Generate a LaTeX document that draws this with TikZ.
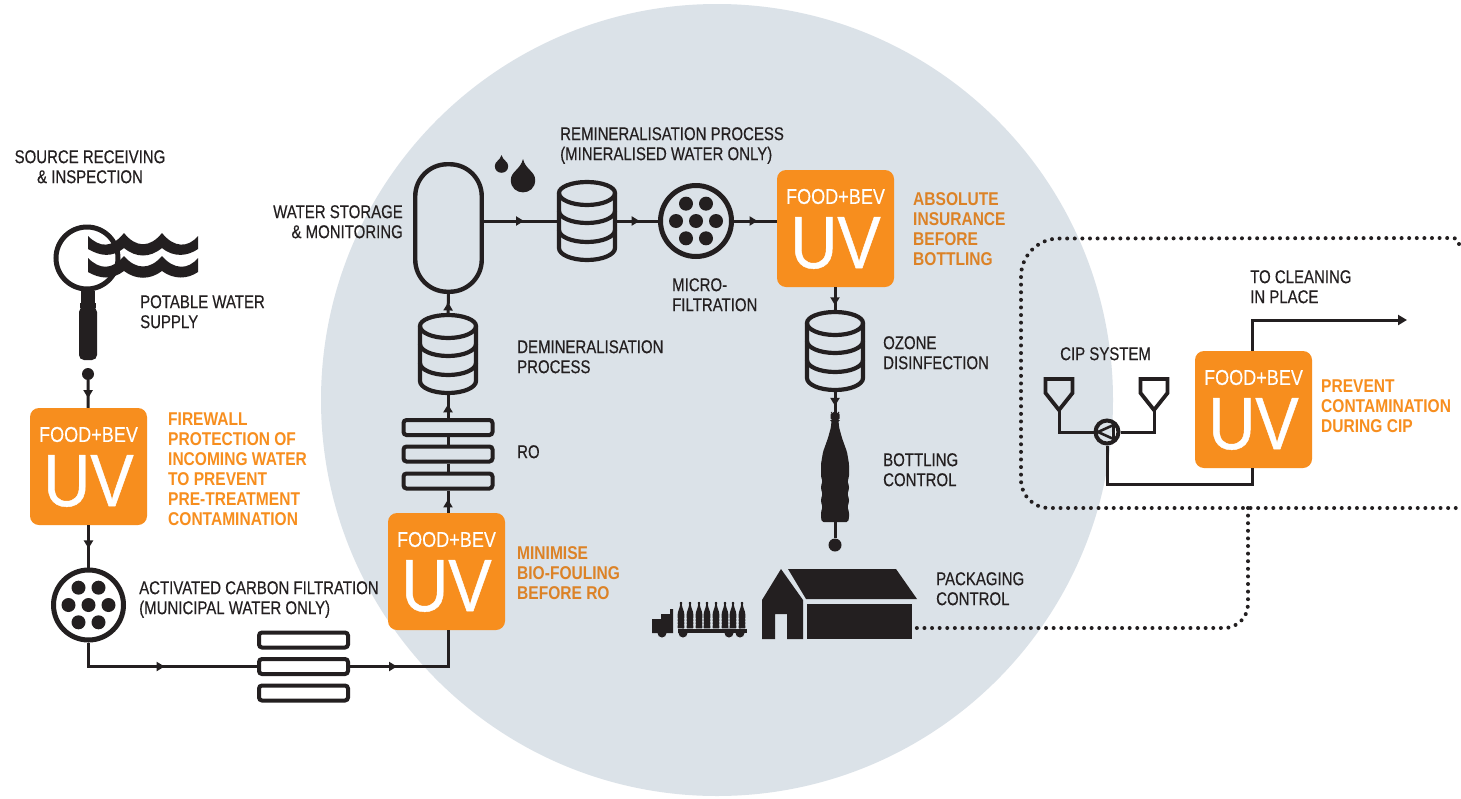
\documentclass[tikz,border=0pt]{standalone}
\usepackage{fontspec}
\setmainfont[FakeStretch=0.81,FakeBold=0.35]{Liberation Sans}
\newfontfamily\orangefont[FakeStretch=0.84]{Liberation Sans Bold}
\newfontfamily\uvfont[FakeStretch=0.88,FakeBold=0.6]{Liberation Sans}
\newfontfamily\uvsmall[FakeStretch=0.84,FakeBold=0.2]{Liberation Sans}
\usetikzlibrary{arrows.meta,decorations.markings,calc}
\definecolor{ink}{HTML}{231F20}
\definecolor{uvorange}{HTML}{F78E1E}
\definecolor{noteorange}{HTML}{DC8226}
\definecolor{disc}{HTML}{DBE2E8}
\tikzset{
  x=1pt,y=-1pt,
  pipe/.style={draw=ink,line width=3pt},
  flowmark/.style={postaction={decorate,decoration={markings,
     mark=at position #1 with {\arrow[ink]{Triangle[length=8pt,width=9pt]}}}}},
  lab/.style={font=\fontsize{18.5}{20}\selectfont,text=ink,inner sep=0pt,align=left,anchor=north west},
  note/.style={font=\orangefont\fontsize{18.5}{20}\selectfont,text=noteorange,inner sep=0pt,align=left,anchor=north west},
  uvbox/.style={fill=uvorange,rounded corners=9pt,minimum width=117pt,minimum height=117pt,inner sep=0pt},
  barbox/.style={draw=ink,line width=4pt,rounded corners=3pt,minimum width=89pt,minimum height=15pt,inner sep=0pt},
  ringnode/.style={circle,draw=ink,line width=5pt,inner sep=0pt},
  dotnode/.style={circle,fill=ink,inner sep=0pt},
  dotted loop/.style={draw=ink,line width=4pt,line cap=round,dash pattern=on 0pt off 7.6pt},
}
\newcommand{\uvblock}[3]{%
  \node[uvbox] (#1) at (#2,#3) {};
  \node[inner sep=0pt,text=white,font=\uvsmall\fontsize{21.5}{21.5}\selectfont] (#1a) at (#2,#3-32) {FOOD+BEV};
  \node[inner sep=0pt,text=white,font=\uvfont\fontsize{74}{74}\selectfont] (#1b) at (#2,#3+14.5) {UV};
}
\newcommand{\drum}[3]{% name, centre x, top y
  \node[minimum width=60pt,minimum height=82pt,inner sep=0pt] (#1) at (#2,#3+41) {};
  \begin{scope}[shift={(#2,#3)}]
    \draw[ink,line width=4.2pt] (-28,13) arc[x radius=28,y radius=11,start angle=180,end angle=360]
       -- (28,68) arc[x radius=28,y radius=12,start angle=0,end angle=180] -- cycle;
    \draw[ink,line width=4.2pt] (-28,13) arc[x radius=28,y radius=12,start angle=180,end angle=0];
    \draw[ink,line width=4.2pt] (-28,31) arc[x radius=28,y radius=12,start angle=180,end angle=0];
    \draw[ink,line width=4.2pt] (-28,50) arc[x radius=28,y radius=12,start angle=180,end angle=0];
  \end{scope}
}
\newcommand{\filterdots}[3]{% x, y, scale
  \foreach \a in {0,60,...,300}{\fill[ink] ($(#1,#2)+(\a:#3*20)$) circle[radius=#3*7];}
  \fill[ink] (#1,#2) circle[radius=#3*7];
}
\newcommand{\bottleshape}{%
 (-3,0) -- (3,0) -- (3,1) -- (4.5,1) -- (4.5,8) -- (3.5,8) -- (4,15) -- (7,26) -- (12,40) -- (14,52) -- (14,65) -- (12.5,69) -- (14,74) -- (14,77) -- (12.5,82) -- (14,87) -- (14,90) -- (12.5,95) -- (14,100) -- (14,106) -- (13,110)
 -- (-13,110) -- (-14,106) -- (-14,100) -- (-12.5,95) -- (-14,90) -- (-14,87) -- (-12.5,82) -- (-14,77) -- (-14,74) -- (-12.5,69) -- (-14,65) -- (-14,52) -- (-12,40) -- (-7,26) -- (-4,15) -- (-3.5,8) -- (-4.5,8) -- (-4.5,1) -- (-3,1) -- cycle}
\newcommand{\funnel}[3]{% name, tip x, tip y
  \coordinate (#1) at (#2,#3);
  \draw[ink,line width=3.8pt,miter limit=3,line join=miter] (#2,#3) -- (#2-13.5,#3-17) -- (#2-13.5,#3-31) -- (#2+13.5,#3-31) -- (#2+13.5,#3-17) -- cycle;
}
\newcommand{\drop}[4]{% x, tip y, centre y, radius
  \fill[ink] (#1,#2) .. controls (#1+0.2*#4,#2+0.5*#3-0.5*#2) and (#1+#4,#3-0.7*#4) .. (#1+#4,#3)
     .. controls (#1+#4,#3+1.35*#4) and (#1-#4,#3+1.35*#4) .. (#1-#4,#3)
     .. controls (#1-#4,#3-0.7*#4) and (#1-0.2*#4,#2+0.5*#3-0.5*#2) .. (#1,#2) -- cycle;
}
\begin{document}
\begin{tikzpicture}
\useasboundingbox (0,0) rectangle (1461,798);
\fill[white] (0,0) rectangle (1461,798);
\fill[disc] (717,400) circle[radius=396];

% ---- named anchors
\coordinate (loopR1) at (1459,244);
\coordinate (loopC1) at (1021,238.5);
\coordinate (loopC2) at (1021,508);
\coordinate (loopR2) at (1459,506);
\coordinate (loopT) at (1248,508);
\coordinate (loopC3) at (1248,628);
\coordinate (arrowEnd) at (1407,320);
\coordinate (uvDx) at (1252,0);

% ---- UV blocks
\uvblock{uvA}{88.5}{466.5}
\uvblock{uvB}{446.5}{571.5}
\uvblock{uvC}{835.5}{228.5}
\uvblock{uvD}{1253.5}{409.5}

% ---- equipment nodes
\node[ringnode,minimum size=70pt] (carbon) at (88.5,605) {};
\node[ringnode,minimum size=71pt] (micro) at (696,221) {};
\node[draw=ink,line width=4.4pt,rounded corners=32pt,minimum width=66.5pt,minimum height=127.5pt,inner sep=0pt] (tank) at (448.5,228) {};
\node[barbox] (fA) at (303.5,640) {};
\node[barbox] (fB) at (303.5,666.5) {};
\node[barbox] (fC) at (303.5,693) {};
\node[dotnode,minimum size=12pt] (dotAn) at (88,374) {};
\node[dotnode,minimum size=13pt] (dotBn) at (835,545) {};
\node[minimum width=28pt,minimum height=110pt,inner sep=0pt] (bottle) at (835,467) {};
\node[circle,draw=ink,line width=4pt,minimum size=23pt,inner sep=0pt] (pump) at (1107,432) {};
\node[barbox] (roC) at (448,481) {};
\node[barbox] (roB) at (448,454) {};
\node[barbox] (roA) at (448,427.5) {};
\drum{drumA}{448}{313}
\drum{drumB}{587}{180}
\drum{drumC}{835}{310}
\funnel{funL}{1059}{410}
\funnel{funR}{1154}{410}

% ---- connectors
\draw[pipe,flowmark=0.65] (dotAn) -- (uvA);
\draw[pipe,flowmark=0.55] (uvA) -- (carbon);
\draw[pipe,flowmark=0.52] (carbon.south) |- (fB.west);
\draw[pipe,flowmark=0.35] (fB.east) -| (uvB.south -| roC);
\draw[pipe,flowmark=0.6] (uvB.north -| roC) -- (roC.south);
\draw[pipe] (roC.north) -- (roB.south);
\draw[pipe] (roB.north) -- (roA.south);
\draw[pipe,flowmark=0.6] (roA.north) -- (drumA.south);
\draw[pipe,flowmark=0.55] (drumA.north) -- (tank.south);
\draw[pipe,flowmark=0.55] (tank.east |- micro) -- (drumB.west |- micro);
\draw[pipe,flowmark=0.55] (drumB.east |- micro) -- (micro.west);
\draw[pipe,flowmark=0.55] (micro.east) -- (uvC.west |- micro);
\draw[pipe,flowmark=0.8] (uvC.south -| drumC) -- (drumC.north);
\draw[pipe,flowmark=0.7] (drumC.south) -- (bottle.north);
\draw[pipe] (bottle.south) -- (dotBn);
\draw[pipe] (funL) |- (pump.west);
\draw[pipe] (funR) |- (pump.east);
\draw[pipe] (pump.south) |- (uvDx |- 0,484) -- (uvD.south -| uvDx);
\draw[pipe,-{Triangle[length=9pt,width=10pt]}] (uvD.north -| uvDx) |- (arrowEnd);

% ---- filter dots
\filterdots{88.5}{605}{1}
\filterdots{696}{221}{1}

% ---- drops
\drop{501.5}{155}{166}{6.7}
\drop{523}{159}{180}{12.2}

% ---- magnifier
\fill[ink] (88,236) .. controls (100,248) and (112,248) .. (124,233) .. controls (136,248) and (150,248) .. (162,233) .. controls (174,248) and (188,248) .. (198,236) -- (198,249) .. controls (188,256) and (174,258) .. (162,248) .. controls (150,258) and (136,258) .. (124,248) .. controls (112,258) and (100,256) .. (88,249) -- cycle;
\fill[ink] (88,258) .. controls (100,270) and (112,270) .. (124,256) .. controls (136,270) and (150,270) .. (162,256) .. controls (174,270) and (188,270) .. (198,258) -- (198,272) .. controls (188,279) and (174,280) .. (162,271) .. controls (150,280) and (136,280) .. (124,271) .. controls (112,280) and (100,279) .. (88,272) -- cycle;
\node[circle,draw=ink,line width=5pt,minimum size=62pt,inner sep=0pt] (lens) at (87,258) {};
\fill[ink] (81,291) rectangle (95,303);
\fill[ink] (80,303) rectangle (96,308);
\fill[ink,rounded corners=5pt] (79,307) rectangle (97,360);

% ---- bottle
\begin{scope}[shift={(835,412)}]
  \fill[ink,rounded corners=1.5pt] \bottleshape;
\end{scope}

% ---- barn
\fill[ink] (762,639) -- (775,639) -- (775,614) -- (787,614) -- (787,639) -- (803,639) -- (803,600) -- (781,569) -- (762,600) -- cycle;
\fill[ink] (788,569) -- (896,569) -- (917,599) -- (806,599) -- cycle;
\fill[ink] (807,604) rectangle (912,639);
% ---- truck
\fill[ink] (652,619) -- (661,619) -- (661,614) -- (670,614) -- (670,609) -- (673,609) -- (673,633) -- (652,633) -- cycle;
\fill[ink] (678,629) rectangle (747,633);
\foreach \wx in {662,683,729,740}{\fill[ink] (\wx,633) circle[radius=4.5];}
\foreach \bx in {681,690,699,707,716,725,733,742}{
  \begin{scope}[shift={(\bx,602)},scale=0.24]\fill[ink,rounded corners=0.4pt] \bottleshape;\end{scope}
}

% ---- pump triangle
\draw[ink,line width=2.6pt,line join=miter] (1098,432) -- (1113.5,425) -- (1113.5,439) -- cycle;

% ---- dotted runs
\draw[dotted loop] (loopR1) arc[radius=6,start angle=0,end angle=-90] -- ([xshift=38pt]loopC1) arc[radius=38,start angle=-90,end angle=-180] -- ([yshift=28pt]loopC2) arc[radius=28,start angle=180,end angle=90] -- ([xshift=-3pt]loopR2 |- loopC2) arc[radius=3,start angle=90,end angle=0];
\draw[dotted loop] (loopT) -- ([yshift=24pt]loopC3) arc[radius=24,start angle=0,end angle=90] -- (912,628);

% ---- labels
\node[lab,align=center,anchor=north] (tSource) at (90,150) {SOURCE RECEIVING\\\& INSPECTION};
\node[lab] (tPotable) at (140,295) {POTABLE WATER\\SUPPLY};
\node[lab,align=right,anchor=north east] (tStore) at (403,205) {WATER STORAGE\\\& MONITORING};
\node[lab] (tRemin) at (560,127) {REMINERALISATION PROCESS\\(MINERALISED WATER ONLY)};
\node[lab] (tMicro) at (672,278) {MICRO-\\FILTRATION};
\node[lab] (tDemin) at (517,340) {DEMINERALISATION\\PROCESS};
\node[lab] (tRO) at (517,445) {RO};
\node[lab] (tOzone) at (883,336) {OZONE\\DISINFECTION};
\node[lab] (tBottling) at (883,453) {BOTTLING\\CONTROL};
\node[lab] (tPack) at (936,572) {PACKAGING\\CONTROL};
\node[lab] (tCarbon) at (139,581) {ACTIVATED CARBON FILTRATION\\(MUNICIPAL WATER ONLY)};
\node[lab] (tCip) at (1060,347) {CIP SYSTEM};
\node[lab] (tClean) at (1250,270) {TO CLEANING\\IN PLACE};
\node[note,text=uvorange] (nA) at (168,413) {FIREWALL\\PROTECTION OF\\INCOMING WATER\\TO PREVENT\\PRE-TREATMENT\\CONTAMINATION};
\node[note] (nC) at (913,192) {ABSOLUTE\\INSURANCE\\BEFORE\\BOTTLING};
\node[note] (nB) at (517,546) {MINIMISE\\BIO-FOULING\\BEFORE RO};
\node[note,text=uvorange] (nD) at (1321,380) {PREVENT\\CONTAMINATION\\DURING CIP};
\end{tikzpicture}
\end{document}
